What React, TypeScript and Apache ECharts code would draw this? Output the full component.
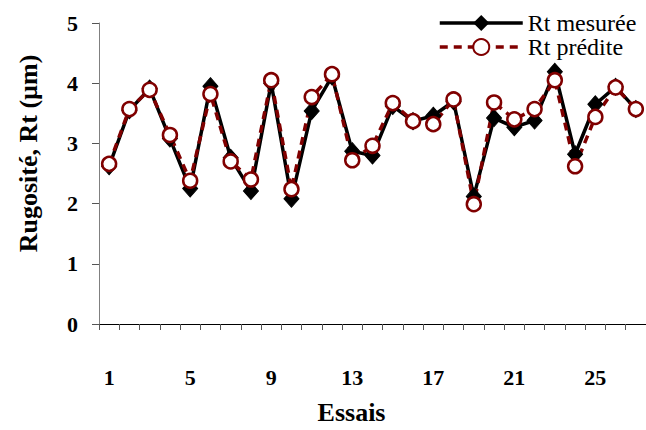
import React, { useEffect, useRef } from "react";
import * as echarts from "echarts";

const categories = Array.from({ length: 27 }, (_, i) => String(i + 1));
const rtMesuree = [2.62, 3.55, 3.91, 3.08, 2.25, 3.95, 2.76, 2.21, 4.0, 2.08, 3.54, 4.11, 2.87, 2.8, 3.62, 3.37, 3.46, 3.7, 2.12, 3.42, 3.27, 3.38, 4.19, 2.82, 3.65, 3.94, 3.57];
const rtPredite = [2.66, 3.57, 3.89, 3.14, 2.38, 3.82, 2.7, 2.4, 4.05, 2.24, 3.77, 4.15, 2.72, 2.96, 3.67, 3.37, 3.32, 3.73, 1.99, 3.68, 3.4, 3.57, 4.05, 2.62, 3.44, 3.93, 3.57];

const SERIF = "Liberation Serif";

export default function App() {
  const ref = useRef<HTMLDivElement>(null);
  useEffect(() => {
    document.body.style.margin = "0";
    const chart = echarts.init(ref.current!, null, { renderer: "svg" });
    chart.setOption({
      animation: false,
      backgroundColor: "#ffffff",
      textStyle: { fontFamily: SERIF },
      grid: { left: 99, top: 23, width: 554, height: 301 },
      legend: {
        orient: "vertical",
        left: 433,
        top: 6,
        itemWidth: 83,
        itemHeight: 20,
        itemGap: 0,
        lineStyle: { width: 3.5 },
        textStyle: { fontFamily: SERIF, fontSize: 24, color: "#000" },
        data: ["Rt mesurée", "Rt prédite"],
      },
      xAxis: {
        type: "category",
        data: categories,
        boundaryGap: true,
        name: "Essais",
        nameLocation: "middle",
        nameGap: 75,
        nameTextStyle: { fontFamily: SERIF, fontSize: 26, fontWeight: "bold", color: "#000", padding: [0, 42, 0, 0] },
        axisLine: { lineStyle: { color: "#000", width: 1 } },
        axisTick: { show: true, interval: 0, alignWithLabel: false, length: 6, lineStyle: { color: "#555" } },
        axisLabel: { interval: 3, margin: 42, fontFamily: SERIF, fontSize: 22, fontWeight: "bold", color: "#000" },
        splitLine: { show: false },
      },
      yAxis: {
        type: "value",
        min: 0,
        max: 5,
        interval: 1,
        name: "Rugosité, Rt (µm)",
        nameLocation: "middle",
        nameGap: 58,
        nameTextStyle: { fontFamily: SERIF, fontSize: 26, fontWeight: "bold", color: "#000", padding: [0, 0, 0, 40] },
        axisLine: { show: true, lineStyle: { color: "#808080", width: 1 } },
        axisTick: { show: true, length: 7, lineStyle: { color: "#555" } },
        axisLabel: { margin: 21, fontFamily: SERIF, fontSize: 22, fontWeight: "bold", color: "#000" },
        splitLine: { show: false },
      },
      series: [
        {
          name: "Rt mesurée",
          type: "line",
          data: rtMesuree,
          showSymbol: true,
          showAllSymbol: true,
          symbol: "diamond",
          symbolSize: [15, 17],
          lineStyle: { color: "#000", width: 3.5 },
          itemStyle: { color: "#000", borderColor: "#000" },
        },
        {
          name: "Rt prédite",
          type: "line",
          data: rtPredite,
          showSymbol: true,
          showAllSymbol: true,
          symbol: "circle",
          symbolSize: 14,
          lineStyle: { color: "#800000", width: 3.5, type: [8, 6] },
          itemStyle: { color: "#ffffff", borderColor: "#800000", borderWidth: 2.5 },
        },
      ],
    });
    return () => chart.dispose();
  }, []);
  return <div ref={ref} style={{ width: 646, height: 430 }} />;
}
